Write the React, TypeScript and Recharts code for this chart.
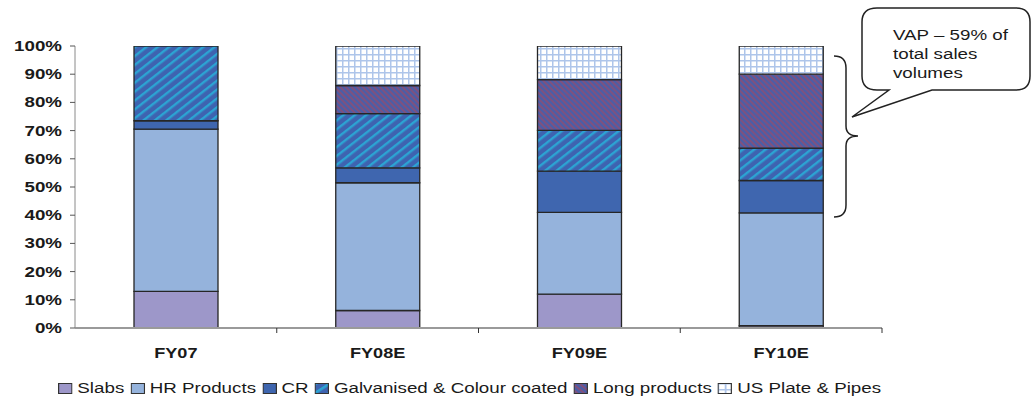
import React from "react";
import { BarChart, Bar, XAxis, YAxis } from "recharts";

// sales volume mix per year, % of total
const years = ["FY07", "FY08E", "FY09E", "FY10E"];
const slabs = [13, 6.2, 12, 0.8];
const hrProducts = [57.5, 45.3, 29, 40];
const cr = [3, 5.3, 14.6, 11.5];
const galvanised = [26.5, 19.2, 14.5, 11.5];
const longProducts = [0, 10, 18, 26.2];
const usPlate = [0, 14, 11.9, 10];
const yTicks = [0, 10, 20, 30, 40, 50, 60, 70, 80, 90, 100];
const calloutLines = ["VAP \u2013 59% of", "total sales", "volumes"];

const series = [
  { key: "slabs", name: "Slabs", fill: "#9D97C9" },
  { key: "hr", name: "HR Products", fill: "#95B3DC" },
  { key: "cr", name: "CR", fill: "#3F66AF" },
  { key: "galv", name: "Galvanised & Colour coated", fill: "url(#galvFill)" },
  { key: "long", name: "Long products", fill: "url(#longFill)" },
  { key: "us", name: "US Plate & Pipes", fill: "url(#usFill)" },
];

const data = years.map((year, i) => ({
  year,
  slabs: slabs[i],
  hr: hrProducts[i],
  cr: cr[i],
  galv: galvanised[i],
  long: longProducts[i],
  us: usPlate[i],
}));

const FONT = "'Liberation Sans', Arial, sans-serif";
const STRETCH = 1.21;
const W = 1034;
const H = 400;
const PLOT_LEFT = 75;
const PLOT_RIGHT = 882;
const BAND = (PLOT_RIGHT - PLOT_LEFT) / years.length;

const YTick = ({ x, y, payload }: any) => (
  <text
    transform={`translate(${x},${y}) scale(${STRETCH},1)`}
    textAnchor="end"
    dy={5}
    fontSize={15.5}
    fontWeight="bold"
    fontFamily={FONT}
    fill="#1a1a1a"
  >
    {payload.value}%
  </text>
);

// label in the middle of the category, tick mark on its right edge
const XTick = ({ x, y, payload }: any) => (
  <g>
    <line x1={x + BAND / 2} x2={x + BAND / 2} y1={y} y2={y + 5} stroke="#333" strokeWidth={1} />
    <text
      transform={`translate(${x},${y + 30}) scale(${STRETCH},1)`}
      textAnchor="middle"
      fontSize={15}
      fontWeight="bold"
      fontFamily={FONT}
      fill="#1a1a1a"
    >
      {payload.value}
    </text>
  </g>
);

const Legend = () => (
  <div
    style={{
      position: "absolute",
      left: 58,
      top: 379,
      display: "flex",
      alignItems: "center",
      whiteSpace: "nowrap",
      fontFamily: FONT,
      fontSize: 15.5,
      color: "#1a1a1a",
      transform: `scaleX(${STRETCH})`,
      transformOrigin: "left center",
    }}
  >
    {series.map((s) => (
      <div key={s.key} style={{ display: "flex", alignItems: "center", marginRight: 5 }}>
        <svg width={12} height={11} style={{ marginRight: 4 }}>
          <rect x={0.5} y={0.5} width={11} height={10} fill={s.fill} stroke="#333" strokeWidth={1} />
        </svg>
        <span>{s.name}</span>
      </div>
    ))}
  </div>
);

const Callout = () => (
  <svg width={W} height={H} style={{ position: "absolute", left: 0, top: 0, pointerEvents: "none" }}>
    <path
      d="M 834 56 Q 846 56 846 68 L 846 126 Q 846 136 858 136 Q 846 136 846 146 L 846 205 Q 846 217 834 217"
      fill="none"
      stroke="#222"
      strokeWidth={1.5}
    />
    <path
      d="M 877 8 H 1016 Q 1030 8 1030 22 V 76 Q 1030 90 1016 90 H 932 L 852 117 L 889 90 H 877 Q 862 90 862 76 V 22 Q 862 8 877 8 Z"
      fill="#fff"
      stroke="#222"
      strokeWidth={1.5}
    />
    {calloutLines.map((line, i) => (
      <text
        key={line}
        transform={`translate(893,${40 + i * 19}) scale(${STRETCH},1)`}
        fontSize={15.5}
        fontFamily={FONT}
        fill="#1a1a1a"
      >
        {line}
      </text>
    ))}
  </svg>
);

export default function App() {
  return (
    <div style={{ position: "absolute", left: 0, top: 0, width: W, height: H, background: "#fff" }}>
      <BarChart
        width={W}
        height={H}
        data={data}
        barSize={84}
        margin={{ top: 46, right: W - PLOT_RIGHT, left: 0, bottom: 0 }}
      >
        <defs>
          <pattern id="galvFill" width="8" height="7" patternUnits="userSpaceOnUse" patternTransform="rotate(-38)">
            <rect width="8" height="7" fill="#3E63B0" />
            <rect width="8" height="2.4" fill="#2CA4D3" />
          </pattern>
          <pattern id="longFill" width="4" height="4" patternUnits="userSpaceOnUse" patternTransform="rotate(45)">
            <rect width="4" height="4" fill="#4A5EA8" />
            <rect width="4" height="1.8" fill="#84507A" />
          </pattern>
          <pattern id="usFill" width="6" height="6" patternUnits="userSpaceOnUse">
            <rect width="6" height="6" fill="#fff" />
            <rect width="1.5" height="6" fill="#AEC5EA" />
            <rect width="6" height="1.5" fill="#AEC5EA" />
          </pattern>
        </defs>
        <XAxis
          dataKey="year"
          height={H - 328}
          tick={<XTick />}
          tickLine={false}
          tickSize={0}
          tickMargin={0}
          axisLine={{ stroke: "#9a9a9a", strokeWidth: 2 }}
          interval={0}
        />
        <YAxis
          width={PLOT_LEFT}
          domain={[0, 100]}
          ticks={yTicks}
          tick={<YTick />}
          tickSize={5}
          tickMargin={8}
          tickLine={{ stroke: "#555" }}
          axisLine={{ stroke: "#8a8a8a" }}
          allowDataOverflow
        />
        {series.map((s) => (
          <Bar
            key={s.key}
            dataKey={s.key}
            name={s.name}
            stackId="mix"
            fill={s.fill}
            stroke="#262626"
            strokeWidth={1.3}
            isAnimationActive={false}
          />
        ))}
      </BarChart>
      <Legend />
      <Callout />
    </div>
  );
}
